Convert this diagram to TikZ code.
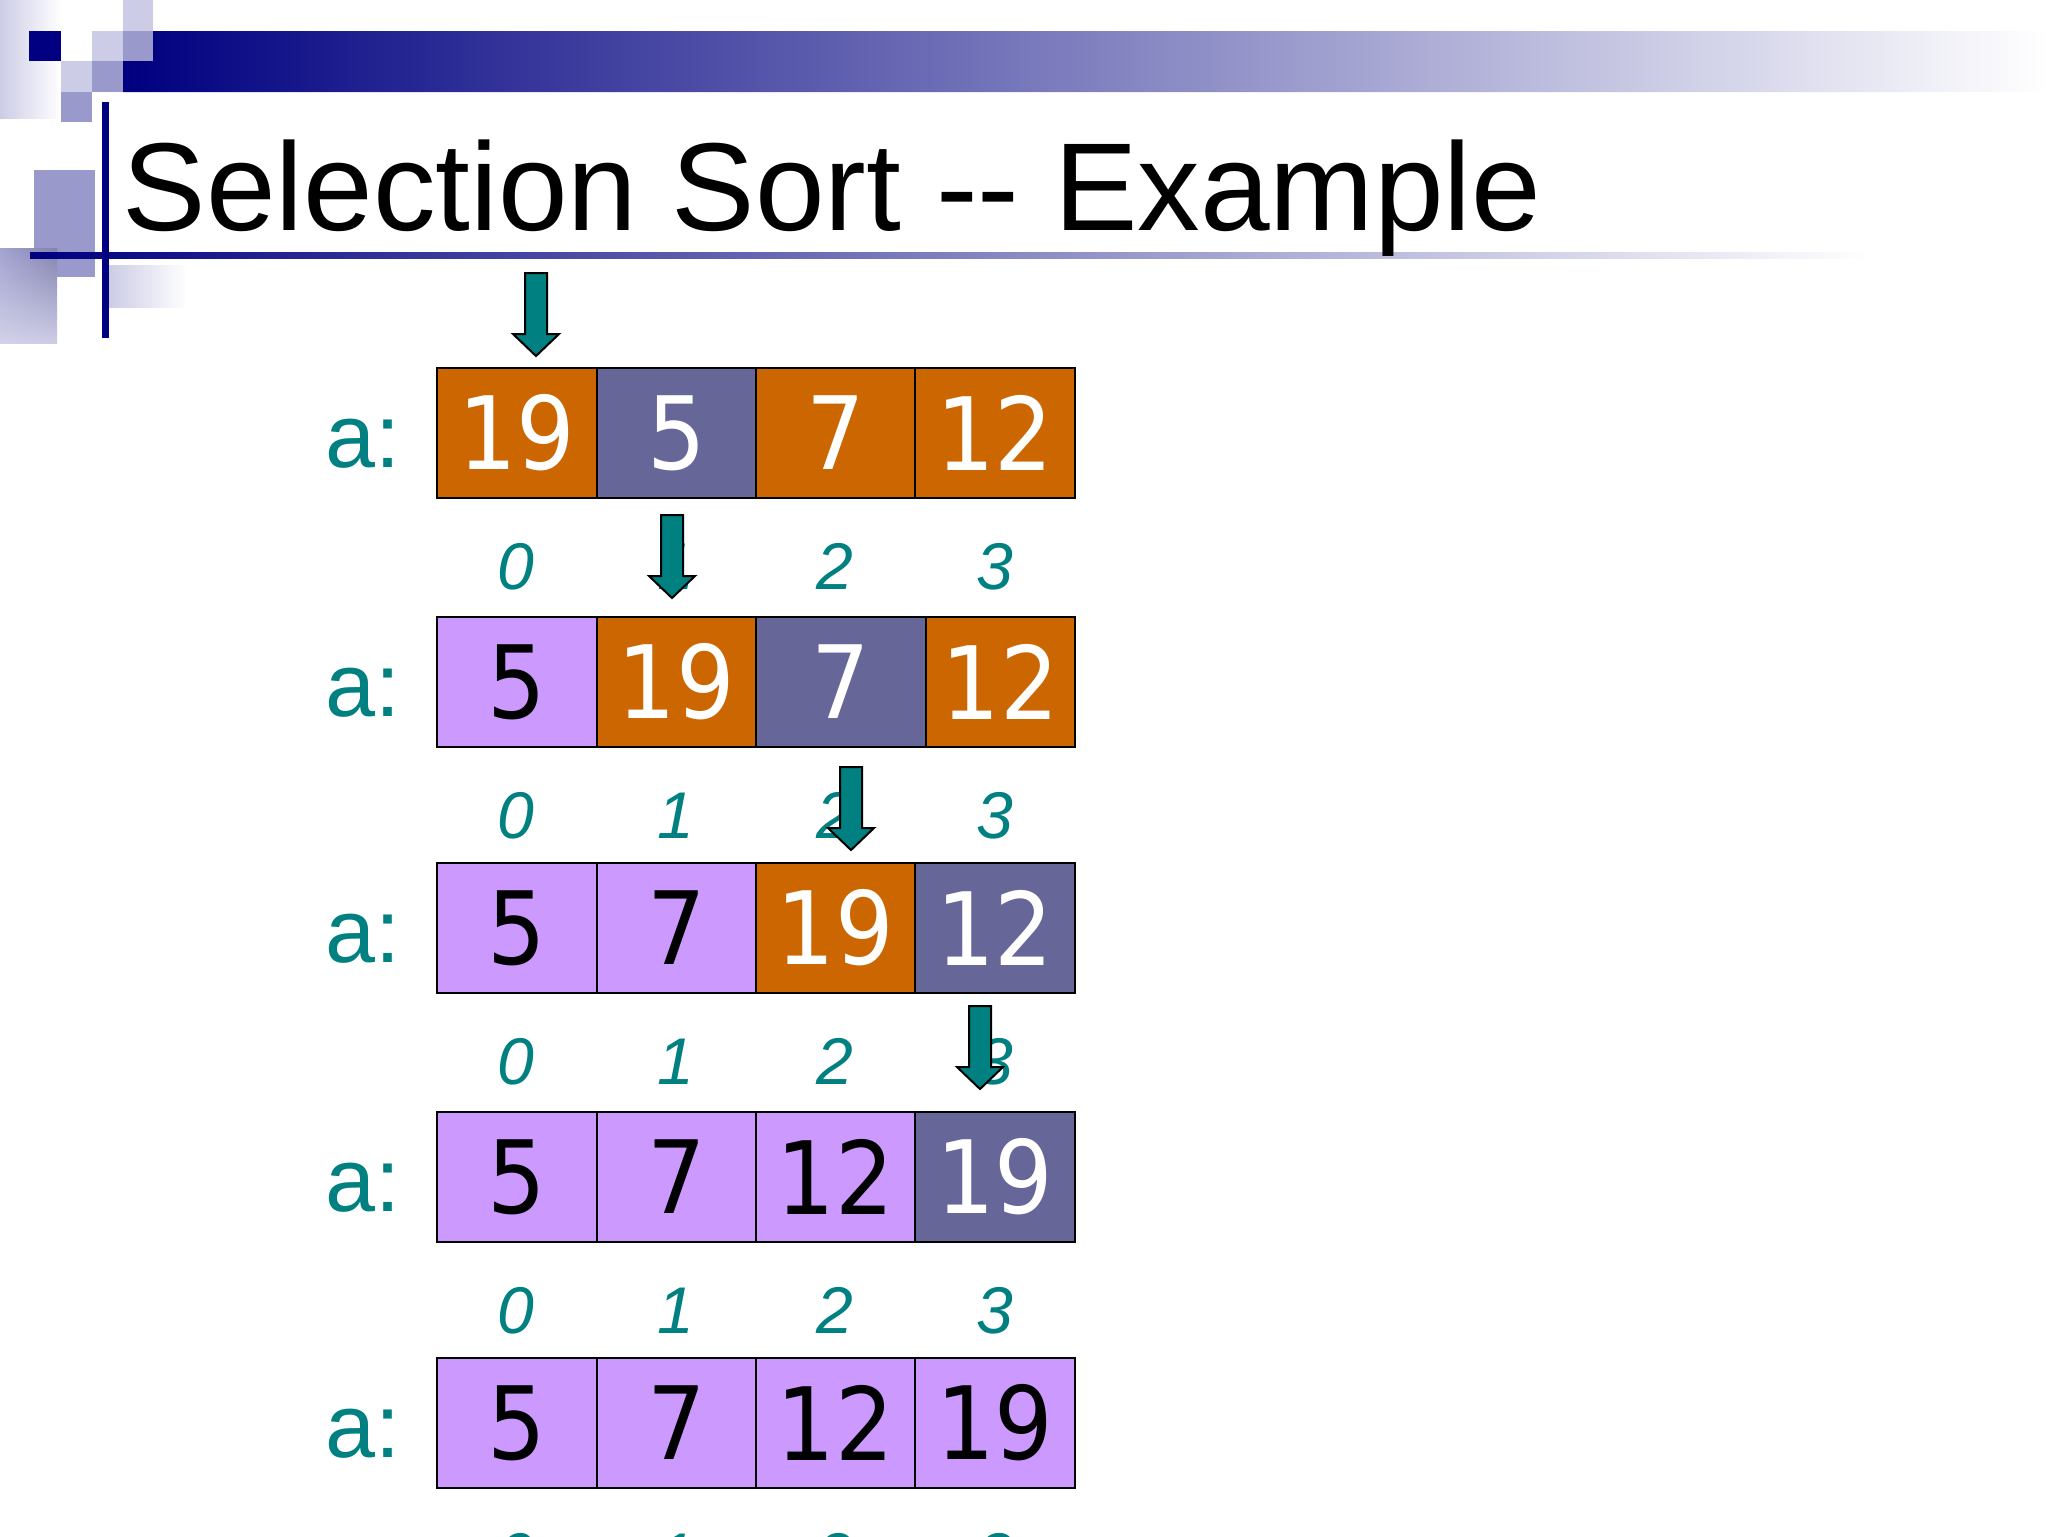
\documentclass[tikz,border=0pt]{standalone}
\usepackage{fontspec}
\setmainfont{Liberation Sans}
\newfontfamily\cellfont[FakeStretch=0.91]{DejaVu Sans}
\usetikzlibrary{calc}
\usetikzlibrary{shadings}
\definecolor{slideNavy}{HTML}{000080}
\definecolor{slideTeal}{HTML}{008080}
\definecolor{lavLight}{HTML}{CCCCE6}
\definecolor{lavMid}{HTML}{9999CC}
\definecolor{cellOrange}{HTML}{CC6600}
\definecolor{cellSlate}{HTML}{666699}
\definecolor{cellLilac}{HTML}{CC99FF}
\tikzset{
  title/.style = {anchor=base west, inner sep=0pt, font=\fontsize{35.6}{40}\selectfont},
  cell/.style = {draw=black, line width=0.2mm, inner sep=0pt, minimum height=13mm, font=\cellfont\fontsize{28.8}{32}\selectfont},
  unsorted/.style = {cell, fill=cellOrange, text=white},
  smallest/.style = {cell, fill=cellSlate, text=white},
  sorted/.style = {cell, fill=cellLilac, text=black},
  rowLabel/.style = {anchor=base west, inner sep=0pt, text=slideTeal, font=\fontsize{25.6}{28}\selectfont},
  index/.style = {anchor=base, inner sep=0pt, text=slideTeal, font=\itshape\fontsize{18.8}{20}\selectfont},
  pointer/.style = {fill=slideTeal, draw=black, line width=0.2mm, line join=miter}
}
\newcommand{\pickArrow}[2][]{%
  % #1: optional options (e.g. scale=1.1)
  % #2: tip of the arrow
  \begin{scope}[shift={(#2)}, #1]
    \draw[pointer] (-11,-83) -- (11,-83) -- (11,-22) -- (23,-22) -- (0,0)
      -- (-23,-22) -- (-11,-22) -- cycle;
  \end{scope}
}

\begin{document}
\begin{tikzpicture}[x=0.1mm, y=-0.1mm]

    \useasboundingbox (0,0) rectangle (2048,1536);
    \clip (0,0) rectangle (2048,1536);

    % Slide decoration
    \shade[left color=lavLight, right color=white] (0,0) rectangle (61,118);
    \fill[lavLight] (123,0) rectangle (153,31);
    \fill[lavLight] (92,31) rectangle (123,61);
    \fill[lavMid] (123,31) rectangle (153,61);
    \fill[slideNavy] (29,31) rectangle (61,61);
    \fill[lavLight] (61,61) rectangle (92,92);
    \fill[lavMid] (92,61) rectangle (123,92);
    \fill[lavMid] (61,92) rectangle (92,122);
    \shade[left color=slideNavy, right color=white]
      (153,31) -- (2048,31) -- (2048,92) -- (123,92) -- (123,61) -- (153,61) -- cycle;
    \fill[lavMid] (34,170) rectangle (95,277);
    \shade[upper right=black!15!lavMid, upper left=lavMid!90, lower left=lavLight!90, lower right=lavLight]
      (0,248) rectangle (57,343);
    \shade[left color=lavLight, right color=white] (109,265) rectangle (187,307);
    \shade[left color=slideNavy, right color=white] (30,252) rectangle (1870,258);
    \fill[slideNavy] (102,102) rectangle (109,338);

    % Title
    \node[title] (title) at (122,230) {Selection Sort -\kern0pt- Example};

    % Array rows
    \foreach \r/\top/\cells in {
      1/366/{437/597/19/unsorted, 597/756/5/smallest, 756/915/7/unsorted, 915/1075/12/unsorted},
      2/615/{437/597/5/sorted, 597/756/19/unsorted, 756/926/7/smallest, 926/1075/12/unsorted},
      3/861/{437/597/5/sorted, 597/756/7/sorted, 756/915/19/unsorted, 915/1075/12/smallest},
      4/1110/{437/597/5/sorted, 597/756/7/sorted, 756/915/12/sorted, 915/1075/19/smallest},
      5/1356/{437/597/5/sorted, 597/756/7/sorted, 756/915/12/sorted, 915/1075/19/sorted}}{
      \node[rowLabel] (lab\r) at (325,\top+101) {a:};
      \foreach \xa/\xb/\v/\s [count=\k from 0] in \cells {
        \node[\s, minimum width={(\xb-\xa)*0.1mm}] (c\r\k) at ({(\xa+\xb)/2},\top+67) {\v};
        \node[index] (i\r\k) at ({516+159.5*\k},\top+223) {\k};
      }
    }

    % Pointers to the current position
    \coordinate (p1) at (536,356);
    \coordinate (p2) at (672,598);
    \coordinate (p3) at (851,850);
    \coordinate (p4) at (980,1089);
    \pickArrow{p1}
    \pickArrow{p2}
    \pickArrow{p3}
    \pickArrow{p4}

\end{tikzpicture}
\end{document}
